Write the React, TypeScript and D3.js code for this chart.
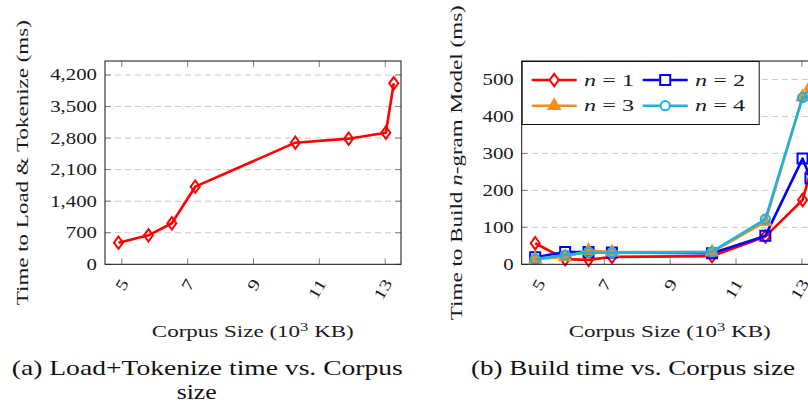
import React, { useEffect, useRef } from 'react'
import * as d3 from 'd3'

// corpus sizes (10^3 KB), shared by both panels
const corpusSize = [4.9, 5.81, 6.52, 7.23, 10.27, 11.89, 13.02, 13.26]
// (a) load + tokenize time (ms)
const loadTokenizeMs = [479, 643, 910, 1722, 2698, 2787, 2920, 4016]
// (b) build time (ms) per n-gram order
const buildN1 = [57, 14, 12, 20, 22, 75, 174, 250]
const buildN2 = [19, 33, 33, 32, 30, 77, 286, 232]
const buildN3 = [14, 20, 37, 33, 33, 115, 453, 482]
const buildN4 = [14, 25, 32, 31, 34, 122, 451, 455]

const xTicks = [5, 7, 9, 11, 13]
const loadTicks = [0, 700, 1400, 2100, 2800, 3500, 4200]
const buildTicks = [0, 100, 200, 300, 400, 500]
const legendLabels = ['1', '2', '3', '4']

const FONT = '"Liberation Serif", "DejaVu Serif", serif'
// the reference text is set wide; stretch glyphs horizontally
const STRETCH = 1.3
const plotW = 296
const plotTop = 61
const plotBottom = 264.3
const xDomain: [number, number] = [4.49, 13.48]

const markerPath = (kind: string) => {
    if (kind === 'diamond') return 'M0,-6.2L4.5,0L0,6.2L-4.5,0Z'
    if (kind === 'square') return 'M-5,-5H5V5H-5Z'
    if (kind === 'triangle') return 'M0,-6.5L5.6,3.3L-5.6,3.3Z'
    return d3.symbol(d3.symbolCircle, Math.PI * 4.6 * 4.6)() as string
}

interface Series {
    values: number[]
    color: string
    marker: string
}

const drawPanel = (
    g: any,
    left: number,
    yDomain: [number, number],
    yTicks: number[],
    fmt: (v: number) => string,
    series: Series[]
) => {
    const x = d3.scaleLinear().domain(xDomain).range([left, left + plotW])
    const y = d3.scaleLinear().domain(yDomain).range([plotBottom, plotTop])
    const [x0, x1] = x.range()

    // horizontal grid
    g.append('g')
        .selectAll('line')
        .data(yTicks.filter((v) => v > 0))
        .join('line')
        .attr('x1', x0)
        .attr('x2', x1)
        .attr('y1', (d: number) => y(d))
        .attr('y2', (d: number) => y(d))
        .attr('stroke', '#c8c8c8')
        .attr('stroke-dasharray', '6,4')

    // ticks, inside on all four sides
    const ticks = g.append('g').attr('stroke', '#808080')
    yTicks.forEach((v) => {
        ticks.append('line').attr('x1', x0).attr('x2', x0 + 6).attr('y1', y(v)).attr('y2', y(v))
        ticks.append('line').attr('x1', x1 - 6).attr('x2', x1).attr('y1', y(v)).attr('y2', y(v))
    })
    xTicks.forEach((v) => {
        ticks.append('line').attr('x1', x(v)).attr('x2', x(v)).attr('y1', plotBottom).attr('y2', plotBottom - 6)
        ticks.append('line').attr('x1', x(v)).attr('x2', x(v)).attr('y1', plotTop).attr('y2', plotTop + 6)
    })

    // tick labels
    g.append('g')
        .selectAll('text')
        .data(yTicks)
        .join('text')
        .attr('transform', (d: number) => `translate(${x0 - 8},${y(d) + 5.5}) scale(${STRETCH},1)`)
        .attr('text-anchor', 'end')
        .attr('font-size', 16)
        .attr('fill', '#1a1a1a')
        .text(fmt)
    g.append('g')
        .selectAll('text')
        .data(xTicks)
        .join('text')
        .attr('transform', (d: number) => `translate(${x(d) + 7.5},283) rotate(-60) scale(${STRETCH},1)`)
        .attr('text-anchor', 'end')
        .attr('font-size', 16)
        .attr('fill', '#1a1a1a')
        .text((d: number) => d)

    // series
    series.forEach((s) => {
        const pts = corpusSize.map((c, i) => [x(c), y(s.values[i])] as [number, number])
        g.append('path')
            .attr('d', d3.line()(pts))
            .attr('fill', 'none')
            .attr('stroke', s.color)
            .attr('stroke-width', 2.6)
            .attr('stroke-linejoin', 'round')
        g.append('g')
            .selectAll('path')
            .data(pts)
            .join('path')
            .attr('transform', (d: [number, number]) => `translate(${d[0]},${d[1]})`)
            .attr('d', markerPath(s.marker))
            .attr('fill', s.marker === 'triangle' ? s.color : 'none')
            .attr('stroke', s.color)
            .attr('stroke-width', 2)
    })

    // axis box
    g.append('rect')
        .attr('x', x0)
        .attr('y', plotTop)
        .attr('width', plotW)
        .attr('height', plotBottom - plotTop)
        .attr('fill', 'none')
        .attr('stroke', '#111')
        .attr('stroke-width', 1)
}

const App: React.FC = () => {
    const ref = useRef<any>()
    useEffect(() => {
        const root = d3.select(ref.current)
        const left = root.select('.panel-a')
        const right = root.select('.panel-b')
        left.selectAll('*').remove()
        right.selectAll('*').remove()

        drawPanel(left, 105, [0, 4510], loadTicks, d3.format(','), [
            { values: loadTokenizeMs, color: '#ff0000', marker: 'diamond' }
        ])

        const build: Series[] = [
            { values: buildN1, color: '#ff0000', marker: 'diamond' },
            { values: buildN2, color: '#0000ff', marker: 'square' },
            { values: buildN3, color: '#ff8a1a', marker: 'triangle' },
            { values: buildN4, color: '#1ab3e6', marker: 'circle' }
        ]
        drawPanel(right, 521.7, [0, 550], buildTicks, d3.format('d'), build)

        // legend, 2 columns
        const lg = right.append('g')
        lg.append('rect')
            .attr('x', 522.2)
            .attr('y', 61.5)
            .attr('width', 237)
            .attr('height', 63)
            .attr('fill', 'white')
            .attr('stroke', '#111')
        build.forEach((s, i) => {
            const cx = i % 2 === 0 ? 531.7 : 642.7
            const cy = i < 2 ? 80 : 105.7
            lg.append('line')
                .attr('x1', cx)
                .attr('x2', cx + 45)
                .attr('y1', cy)
                .attr('y2', cy)
                .attr('stroke', s.color)
                .attr('stroke-width', 2.6)
            lg.append('path')
                .attr('transform', `translate(${cx + 22.5},${cy})`)
                .attr('d', markerPath(s.marker))
                .attr('fill', s.marker === 'triangle' ? s.color : 'white')
                .attr('stroke', s.color)
                .attr('stroke-width', 2)
            const t = lg.append('text')
                .attr('x', cx + 52.3)
                .attr('y', cy + 5.5)
                .attr('font-size', 17)
                .attr('fill', '#1a1a1a')
                .attr('textLength', 50)
                .attr('lengthAdjust', 'spacingAndGlyphs')
            t.append('tspan').attr('font-style', 'italic').text('n')
            t.append('tspan').text(` = ${legendLabels[i]}`)
        })
    }, [])

    return (
        <div style={{ position: 'absolute', left: 0, top: 0, width: 808, height: 415, background: 'white' }}>
            <svg ref={ref} width={808} height={415} viewBox='0 0 808 415' style={{ display: 'block', fontFamily: FONT }}>
                <rect width={808} height={415} fill='white' />
                <g className='panel-a'></g>
                <g className='panel-b'></g>

                <text transform='translate(28,162.7) rotate(-90)' textAnchor='middle' fontSize={17} fill='#1a1a1a'
                    textLength={285} lengthAdjust='spacingAndGlyphs'>
                    Time to Load &amp; Tokenize (ms)
                </text>
                <text transform='translate(461.5,162.7) rotate(-90)' textAnchor='middle' fontSize={17} fill='#1a1a1a'
                    textLength={315} lengthAdjust='spacingAndGlyphs'>
                    Time to Build <tspan fontStyle='italic'>n</tspan>-gram Model (ms)
                </text>

                <text x={252.8} y={336.7} textAnchor='middle' fontSize={16} fill='#1a1a1a'
                    textLength={202} lengthAdjust='spacingAndGlyphs'>
                    Corpus Size (10<tspan dy={-6} fontSize={11.5}>3</tspan><tspan dy={6}> KB)</tspan>
                </text>
                <text x={669.7} y={336.7} textAnchor='middle' fontSize={16} fill='#1a1a1a'
                    textLength={202} lengthAdjust='spacingAndGlyphs'>
                    Corpus Size (10<tspan dy={-6} fontSize={11.5}>3</tspan><tspan dy={6}> KB)</tspan>
                </text>

                <text x={207.3} y={375} textAnchor='middle' fontSize={22} fill='#111'
                    textLength={391} lengthAdjust='spacingAndGlyphs'>
                    (a) Load+Tokenize time vs. Corpus
                </text>
                <text x={196.7} y={399.3} textAnchor='middle' fontSize={22} fill='#111'
                    textLength={40} lengthAdjust='spacingAndGlyphs'>
                    size
                </text>
                <text x={633} y={375} textAnchor='middle' fontSize={22} fill='#111'
                    textLength={324} lengthAdjust='spacingAndGlyphs'>
                    (b) Build time vs. Corpus size
                </text>
            </svg>
        </div>
    )
}

export default App
